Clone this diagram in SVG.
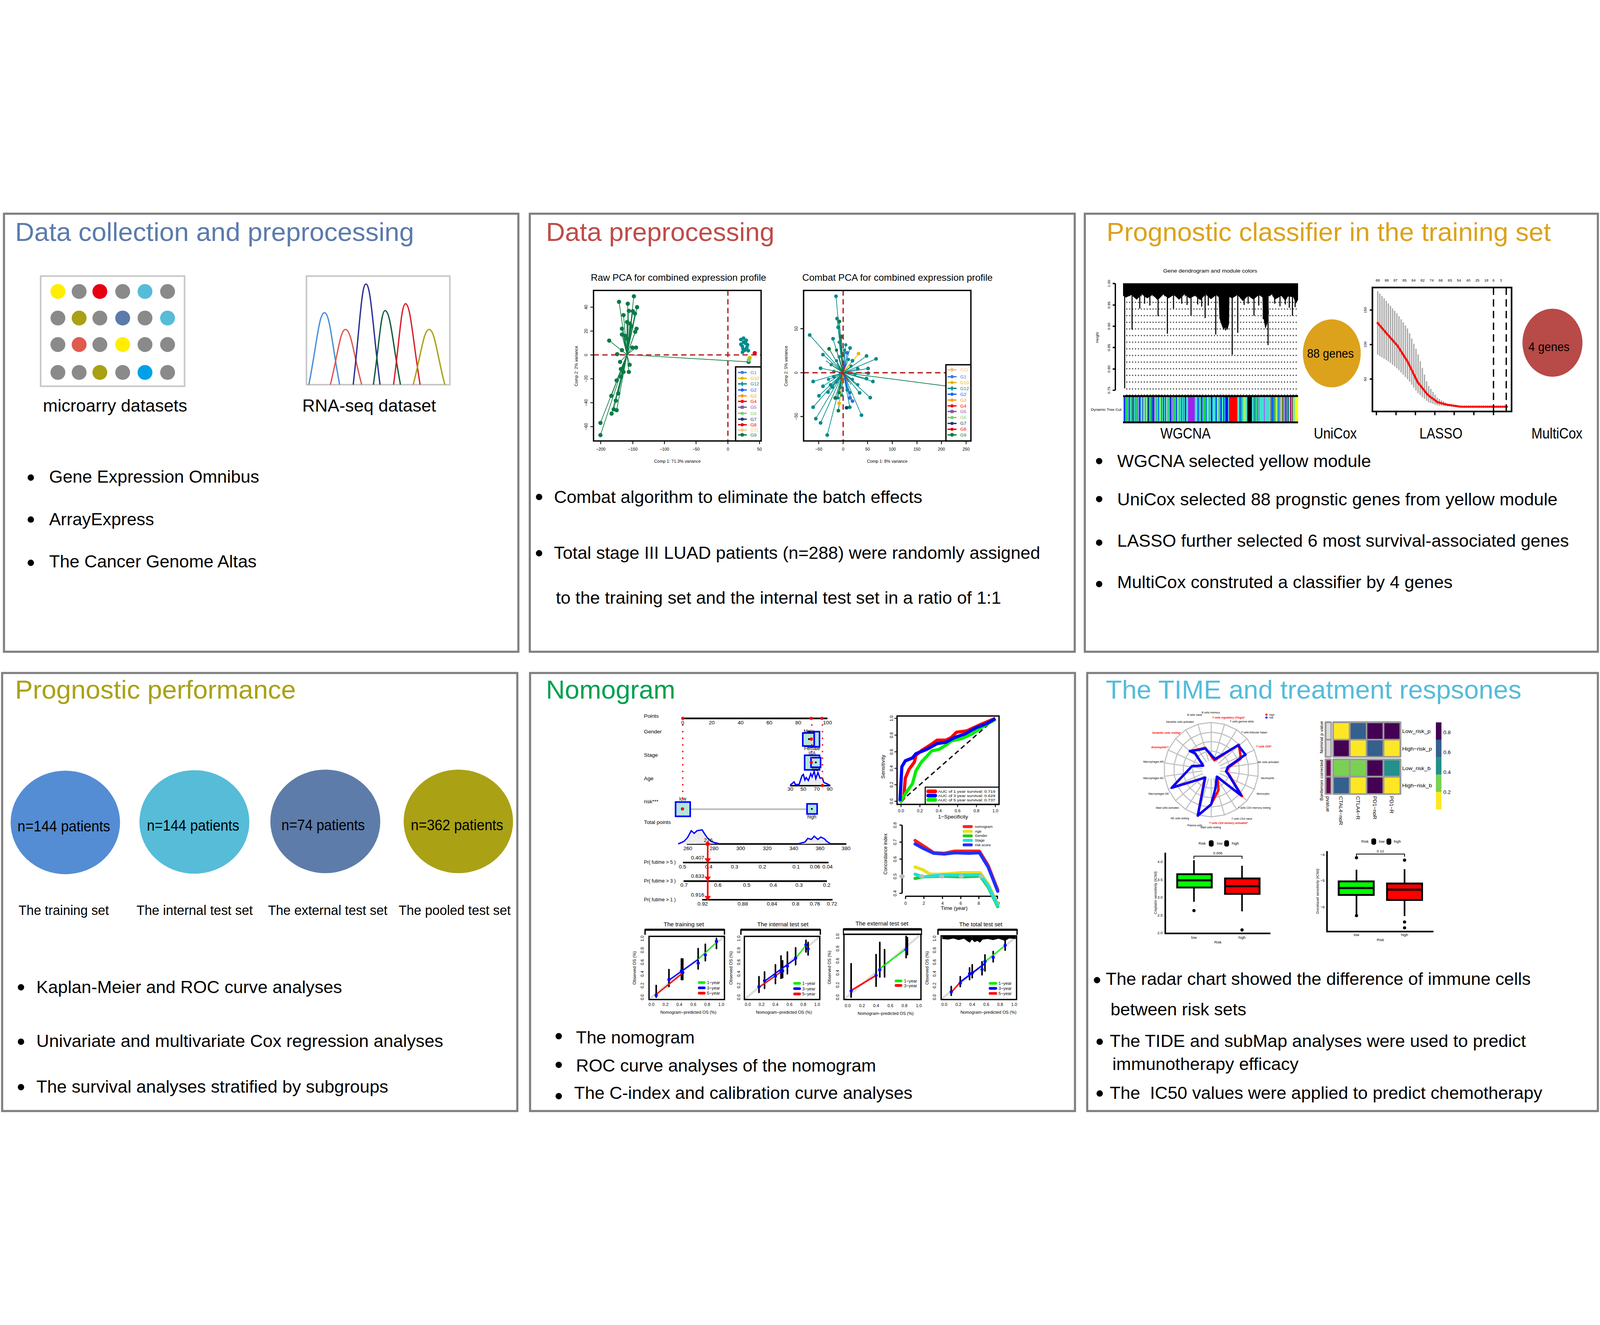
<svg xmlns="http://www.w3.org/2000/svg" xmlns:xlink="http://www.w3.org/1999/xlink" width="6025" height="3393" viewBox="0 0 6025 3393" style="width:100%;height:100%;display:block">
<defs>
<style>
text{font-family:"Liberation Sans",Arial,Helvetica,sans-serif;fill:#000}
.panel{fill:#fff;stroke:#808080;stroke-width:8}
.title{font-size:98px}
.bt{font-size:66px}
.lb{font-size:64px}
.mid{text-anchor:middle}
.end{text-anchor:end}
.t14{font-size:14px}
.t16{font-size:16px}
.t17{font-size:17px}
.t18{font-size:18px}
.t20{font-size:20px}
.t22{font-size:22px}
.t34{font-size:34px}
.fr{fill:none;stroke:#000;stroke-width:5}
.ax{fill:none;stroke:#000;stroke-width:6}
.c1{fill:#5b7bac}.c2{fill:#bf4c49}.c3{fill:#dca21c}.c4{fill:#a9a115}.c5{fill:#00a04f}.c6{fill:#55bcd9}
.rt{fill:#ff0000}
.rad{font-size:10px}
.radr{font-size:10px;fill:#ff0000;font-style:italic;font-weight:bold}
.dot{fill:#8a8a8a}
.pg{fill:#0b7a45}
.pt{fill:#008b8b}
.box{fill:#b3e6df;stroke:#0000ff;stroke-width:6}
.cal{fill:none;stroke:#000;stroke-width:6;stroke-linecap:round}
</style>
<polygon id="ring" fill="none" stroke="#c0c0c0" points="0,-100 28.17,-95.95 54.06,-84.13 75.57,-65.49 90.96,-41.54 98.98,-14.23 98.98,14.23 90.96,41.54 75.57,65.49 54.06,84.13 28.17,95.95 0,100 -28.17,95.95 -54.06,84.13 -75.57,65.49 -90.96,41.54 -98.98,14.23 -98.98,-14.23 -90.96,-41.54 -75.57,-65.49 -54.06,-84.13 -28.17,-95.95"/>
</defs>
<rect x="0" y="0" width="6025" height="3393" fill="#fff"/>

<!-- ============ PANEL 1 ============ -->
<g id="panel-data-collection">
<rect class="panel" x="15" y="6" width="1937" height="1650"/>
<text class="title c1" x="57" y="108" textLength="1502" lengthAdjust="spacingAndGlyphs">Data collection and preprocessing</text>
<g id="microarray">
<rect x="153" y="241" width="542" height="415" fill="#fff" stroke="#c8c8c8" stroke-width="6"/>
<circle cx="218" cy="299" r="28" fill="#ffee00"/><circle class="dot" cx="298" cy="299" r="28"/><circle cx="376" cy="299" r="28" fill="#e60012"/><circle class="dot" cx="462" cy="299" r="28"/><circle cx="546" cy="299" r="28" fill="#56bcd8"/><circle class="dot" cx="631" cy="299" r="28"/>
<circle class="dot" cx="218" cy="399" r="28"/><circle cx="298" cy="399" r="28" fill="#a9a014"/><circle class="dot" cx="376" cy="399" r="28"/><circle cx="462" cy="399" r="28" fill="#5b7bab"/><circle class="dot" cx="546" cy="399" r="28"/><circle cx="631" cy="399" r="28" fill="#56bcd8"/>
<circle class="dot" cx="218" cy="499" r="28"/><circle cx="298" cy="499" r="28" fill="#e05a4f"/><circle class="dot" cx="376" cy="499" r="28"/><circle cx="462" cy="499" r="28" fill="#ffee00"/><circle class="dot" cx="546" cy="499" r="28"/><circle class="dot" cx="631" cy="499" r="28"/>
<circle class="dot" cx="218" cy="604" r="28"/><circle class="dot" cx="298" cy="604" r="28"/><circle cx="376" cy="604" r="28" fill="#a9a014"/><circle class="dot" cx="462" cy="604" r="28"/><circle cx="546" cy="604" r="28" fill="#00a0e9"/><circle class="dot" cx="631" cy="604" r="28"/>
<text class="lb" x="162" y="751" textLength="543" lengthAdjust="spacingAndGlyphs">microarry datasets</text>
</g>
<g id="rnaseq">
<rect x="1154" y="241" width="540" height="409" fill="#fff" stroke="#c8c8c8" stroke-width="6"/>
<g fill="none" stroke-width="5">
<path stroke="#4a8fd9" d="M1163 650C1192.5 501 1201 379 1222 379C1242 379 1250.5 501 1279 650"/>
<path stroke="#e0574f" d="M1244 650C1272.5 535.6 1281 442 1301 442C1322 442 1331.5 535.6 1362 650"/>
<path stroke="#2c2f91" d="M1330 650C1354 441.5 1361 271 1378 271C1396.5 271 1404.5 441.5 1431 650"/>
<path stroke="#0e5e3b" d="M1406 650C1428 496.5 1434.6 371 1450 371C1470.3 371 1479 496.5 1508 650"/>
<path stroke="#d6202b" d="M1482 650C1504.5 482 1511 345 1527 345C1546 345 1554.5 482 1582 650"/>
<path stroke="#aaa014" d="M1556 650C1586 535.6 1595 442 1616 442C1636.7 442 1645.5 535.6 1675 650"/>
</g>
<text class="lb" x="1138" y="751" textLength="504" lengthAdjust="spacingAndGlyphs">RNA-seq dataset</text>
</g>
<circle cx="116" cy="1000" r="12"/>
<text class="bt" x="185" y="1019" textLength="791" lengthAdjust="spacingAndGlyphs">Gene Expression Omnibus</text>
<circle cx="116" cy="1158" r="12"/>
<text class="bt" x="185" y="1180" textLength="395" lengthAdjust="spacingAndGlyphs">ArrayExpress</text>
<circle cx="116" cy="1321" r="12"/>
<text class="bt" x="185" y="1339" textLength="781" lengthAdjust="spacingAndGlyphs">The Cancer Genome Altas</text>
</g>

<!-- ============ PANEL 2 ============ -->
<g id="panel-data-preprocessing">
<rect class="panel" x="1995" y="6" width="2052" height="1650"/>
<text class="title c2" x="2056" y="108" textLength="860" lengthAdjust="spacingAndGlyphs">Data preprocessing</text>
<g id="pca-raw">
<text class="t34" x="2225" y="258" textLength="660" lengthAdjust="spacingAndGlyphs">Raw PCA for combined expression profile</text>
<g stroke="#0b7a45" stroke-width="2.5" fill="none">
<path d="M2361 537L2331 338M2361 537L2387 317M2361 537L2399 358M2361 537L2364 345M2361 537L2348 388M2361 537L2368 372M2361 537L2391 382M2361 537L2383 373M2361 537L2361 414M2361 537L2342 439M2361 537L2397 439M2361 537L2392 451M2361 537L2294 484M2361 537L2342 461M2361 537L2355 466M2361 537L2381 510M2361 537L2395 510M2361 537L2324 535M2361 537L2335 564M2361 537L2338 591M2361 537L2371 575M2361 537L2322 634M2361 537L2338 620M2361 537L2302 692M2361 537L2319 710M2361 537L2328 683M2361 537L2311 743M2361 537L2303 759M2361 537L2322 746M2361 537L2261 794M2361 537L2261 840M2361 537L2348 602M2361 537L2368 602M2361 537L2372 420M2361 537L2378 430M2361 537L2819 564"/>
</g>
<g class="pg">
<circle cx="2331" cy="338" r="8"/><circle cx="2387" cy="317" r="8"/><circle cx="2399" cy="358" r="8"/><circle cx="2364" cy="345" r="8"/><circle cx="2348" cy="388" r="8"/><circle cx="2368" cy="372" r="8"/><circle cx="2391" cy="382" r="8"/><circle cx="2383" cy="373" r="8"/><circle cx="2361" cy="414" r="8"/><circle cx="2342" cy="439" r="8"/><circle cx="2397" cy="439" r="8"/><circle cx="2392" cy="451" r="8"/><circle cx="2294" cy="484" r="8"/><circle cx="2342" cy="461" r="8"/><circle cx="2355" cy="466" r="8"/><circle cx="2361" cy="477" r="8"/><circle cx="2381" cy="510" r="8"/><circle cx="2395" cy="510" r="8"/><circle cx="2324" cy="535" r="8"/><circle cx="2342" cy="520" r="8"/><circle cx="2335" cy="564" r="8"/><circle cx="2338" cy="591" r="8"/><circle cx="2371" cy="575" r="8"/><circle cx="2322" cy="634" r="8"/><circle cx="2338" cy="620" r="8"/><circle cx="2302" cy="692" r="8"/><circle cx="2319" cy="710" r="8"/><circle cx="2328" cy="683" r="8"/><circle cx="2311" cy="743" r="8"/><circle cx="2303" cy="759" r="8"/><circle cx="2322" cy="746" r="8"/><circle cx="2261" cy="794" r="8"/><circle cx="2261" cy="840" r="8"/><circle cx="2348" cy="602" r="8"/><circle cx="2368" cy="602" r="8"/><circle cx="2372" cy="420" r="8"/><circle cx="2378" cy="430" r="8"/><circle cx="2819" cy="564" r="8"/>
</g>
<g class="pt">
<circle cx="2790" cy="480" r="7"/><circle cx="2800" cy="490" r="7"/><circle cx="2808" cy="495" r="7"/><circle cx="2795" cy="505" r="7"/><circle cx="2812" cy="510" r="7"/><circle cx="2805" cy="520" r="7"/><circle cx="2798" cy="515" r="7"/><circle cx="2815" cy="500" r="7"/><circle cx="2790" cy="498" r="7"/><circle cx="2800" cy="475" r="7"/><circle cx="2810" cy="483" r="7"/><circle cx="2818" cy="522" r="7"/><circle cx="2796" cy="528" r="7"/>
</g>
<circle cx="2842" cy="531" r="8" fill="#e8000b"/>
<circle cx="2823" cy="549" r="8" fill="#e8b600"/>
<circle cx="2820" cy="557" r="8" fill="#7ccd6b"/>
<g fill="none" stroke="#b22222" stroke-width="5" stroke-dasharray="20 13">
<path d="M2741 295V862M2235 538H2866"/>
</g>
<rect class="fr" x="2235" y="295" width="631" height="567"/>
<path d="M2262 862v12M2383 862v12M2502 862v12M2621 862v12M2741 862v12M2860 862v12M2235 358h-12M2235 448h-12M2235 538h-12M2235 628h-12M2235 718h-12M2235 808h-12" stroke="#000" stroke-width="3"/>
<g class="t16 mid">
<text x="2262" y="898">−200</text><text x="2383" y="898">−150</text><text x="2502" y="898">−100</text><text x="2621" y="898">−50</text><text x="2741" y="898">0</text><text x="2860" y="898">50</text>
<text transform="translate(2212 358) rotate(-90)">40</text><text transform="translate(2212 448) rotate(-90)">20</text><text transform="translate(2212 538) rotate(-90)">0</text><text transform="translate(2212 628) rotate(-90)">−20</text><text transform="translate(2212 718) rotate(-90)">−40</text><text transform="translate(2212 808) rotate(-90)">−60</text>
<text x="2551" y="944">Comp 1: 71.3% variance</text>
<text transform="translate(2176 580) rotate(-90)">Comp 2: 2% variance</text>
</g>
<rect x="2770" y="583" width="96" height="279" fill="#fff" stroke="#000" stroke-width="5"/>
<g stroke-width="5">
<path d="M2779 604h33" stroke="#3a7fd5"/><circle cx="2795" cy="604" r="6" fill="#3a7fd5"/>
<path d="M2779 626h33" stroke="#e8b600"/><circle cx="2795" cy="626" r="6" fill="#e8b600"/>
<path d="M2779 647h33M2795 639v16" stroke="#008b8b"/>
<path d="M2779 670h33" stroke="#1565ff"/><circle cx="2795" cy="670" r="6" fill="#1565ff"/>
<path d="M2779 692h33" stroke="#ff9a00"/><circle cx="2795" cy="692" r="6" fill="#ff9a00"/>
<path d="M2779 713h33" stroke="#ff0000"/><circle cx="2795" cy="713" r="6" fill="#ff0000"/>
<path d="M2779 735h33" stroke="#7d5ea5"/><rect x="2789" y="729" width="12" height="12" fill="#7d5ea5"/>
<path d="M2779 758h33" stroke="#7ccd6b"/><circle cx="2795" cy="758" r="6" fill="#7ccd6b"/>
<path d="M2779 780h33" stroke="#1f3a6e"/><circle cx="2795" cy="780" r="6" fill="#1f3a6e"/>
<path d="M2779 801h33" stroke="#e8000b"/><circle cx="2795" cy="801" r="6" fill="#e8000b"/>
<path d="M2779 821h33" stroke="#f6c28f"/><circle cx="2795" cy="821" r="6" fill="#f6c28f"/>
<path d="M2779 839h33" stroke="#0b7a45"/><circle cx="2795" cy="839" r="7" fill="#0b7a45"/>
</g>
<g class="t17">
<text x="2826" y="610" style="fill:#3a7fd5">G1</text><text x="2826" y="632" style="fill:#e8b600">G10</text><text x="2826" y="653" style="fill:#008b8b">G12</text><text x="2826" y="676" style="fill:#1565ff">G2</text><text x="2826" y="698" style="fill:#ff9a00">G3</text><text x="2826" y="719" style="fill:#ff0000">G4</text><text x="2826" y="741" style="fill:#7d5ea5">G5</text><text x="2826" y="764" style="fill:#7ccd6b">G6</text><text x="2826" y="786" style="fill:#1f3a6e">G7</text><text x="2826" y="807" style="fill:#e8000b">G8</text><text x="2826" y="827" style="fill:#f6c28f">G11</text><text x="2826" y="845" style="fill:#0b7a45">G9</text>
</g>
</g>
<g id="pca-combat">
<text class="t34" x="3021" y="258" textLength="717" lengthAdjust="spacingAndGlyphs">Combat PCA for combined expression profile</text>
<g stroke="#008b8b" stroke-width="2.5" fill="none">
<path d="M3175 605L3148 317M3175 605L3152 401M3175 605L3156 434M3175 605L3049 463M3175 605L3137 477M3175 605L3167 468M3175 605L3099 537M3175 605L3201 512M3175 605L3263 542M3175 605L3299 553M3175 605L3090 588M3175 605L3269 589M3175 605L3269 607M3175 605L3062 638M3175 605L3263 627M3175 605L3287 638M3175 605L3099 656M3175 605L3128 651M3175 605L3118 678M3175 605L3084 692M3175 605L3237 681M3175 605L3277 699M3175 605L3062 735M3175 605L3072 778M3175 605L3090 794M3175 605L3115 840M3175 605L3244 765M3175 605L3200 735M3175 605L3210 560M3175 605L3140 620M3175 605L3150 570M3175 605L3230 590M3175 605L3205 650M3175 605L3150 560M3175 605L3160 545M3175 605L3195 555M3175 605L3205 580M3175 605L3140 600M3175 605L3150 640M3175 605L3165 660M3175 605L3190 670M3175 605L3210 630M3175 605L3220 610M3175 605L3130 575M3175 605L3180 520M3175 605L3170 690M3175 605L3155 700M3175 605L3200 680M3175 605L3230 650M3175 605L3120 630M3175 605L3135 660M3175 605L3185 500M3175 605L3160 490"/>
</g>
<g stroke="#0b7a45" stroke-width="2.5" fill="none"><path d="M3175 605L3161 412M3175 605L3122 515M3175 605L3157 748M3175 605L3632 664M3175 605L3110 560M3175 605L3145 700M3175 605L3168 470M3175 605L3150 520M3175 605L3160 680"/></g>
<g stroke="#1565ff" stroke-width="2.5" fill="none"><path d="M3175 605L3190 530M3175 605L3200 700M3175 605L3210 712M3175 605L3180 560"/></g>
<g stroke="#e8b600" stroke-width="2.5" fill="none"><path d="M3175 605L3233 533M3175 605L3160 720M3175 605L3215 555"/></g>
<g stroke="#ff0000" stroke-width="2.5" fill="none"><path d="M3175 605L3185 570M3175 605L3195 640M3175 605L3165 630"/></g>
<g class="pt">
<circle cx="3148" cy="317" r="7"/><circle cx="3152" cy="401" r="7"/><circle cx="3156" cy="434" r="7"/><circle cx="3049" cy="463" r="7"/><circle cx="3137" cy="477" r="7"/><circle cx="3167" cy="468" r="7"/><circle cx="3099" cy="537" r="7"/><circle cx="3201" cy="512" r="7"/><circle cx="3263" cy="542" r="7"/><circle cx="3299" cy="553" r="7"/><circle cx="3090" cy="588" r="7"/><circle cx="3269" cy="589" r="7"/><circle cx="3269" cy="607" r="7"/><circle cx="3062" cy="638" r="7"/><circle cx="3263" cy="627" r="7"/><circle cx="3287" cy="638" r="7"/><circle cx="3099" cy="656" r="7"/><circle cx="3128" cy="651" r="7"/><circle cx="3118" cy="678" r="7"/><circle cx="3084" cy="692" r="7"/><circle cx="3237" cy="681" r="7"/><circle cx="3277" cy="699" r="7"/><circle cx="3062" cy="735" r="7"/><circle cx="3072" cy="778" r="7"/><circle cx="3090" cy="794" r="7"/><circle cx="3115" cy="840" r="7"/><circle cx="3244" cy="765" r="7"/><circle cx="3200" cy="735" r="7"/><circle cx="3210" cy="560" r="7"/><circle cx="3140" cy="620" r="7"/><circle cx="3230" cy="590" r="7"/>
<circle cx="3150" cy="560" r="6"/><circle cx="3160" cy="545" r="6"/><circle cx="3195" cy="555" r="6"/><circle cx="3205" cy="580" r="6"/><circle cx="3140" cy="600" r="6"/><circle cx="3150" cy="640" r="6"/><circle cx="3165" cy="660" r="6"/><circle cx="3190" cy="670" r="6"/><circle cx="3210" cy="630" r="6"/><circle cx="3220" cy="610" r="6"/><circle cx="3130" cy="575" r="6"/><circle cx="3180" cy="520" r="6"/><circle cx="3170" cy="690" r="6"/><circle cx="3155" cy="700" r="6"/><circle cx="3200" cy="680" r="6"/><circle cx="3230" cy="650" r="6"/><circle cx="3120" cy="630" r="6"/><circle cx="3135" cy="660" r="6"/><circle cx="3185" cy="500" r="6"/><circle cx="3160" cy="490" r="6"/>
</g>
<g class="pg"><circle cx="3161" cy="412" r="7"/><circle cx="3122" cy="515" r="7"/><circle cx="3157" cy="748" r="7"/><circle cx="3632" cy="664" r="8"/><circle cx="3145" cy="700" r="7"/><circle cx="3168" cy="470" r="7"/><circle cx="3150" cy="520" r="6"/><circle cx="3160" cy="680" r="6"/></g>
<g fill="#2f6fd6"><circle cx="3190" cy="530" r="7"/><circle cx="3200" cy="700" r="7"/><circle cx="3210" cy="712" r="7"/></g>
<circle cx="3233" cy="533" r="7" fill="#e8b600"/><circle cx="3160" cy="720" r="7" fill="#e8b600"/>
<circle cx="3188" cy="737" r="7" fill="#1f3a6e"/>
<g fill="none" stroke="#b22222" stroke-width="5" stroke-dasharray="20 13">
<path d="M3175 295V862M3026 605H3656"/>
</g>
<rect class="fr" x="3026" y="295" width="630" height="567"/>
<path d="M3083 862v12M3175 862v12M3267 862v12M3360 862v12M3453 862v12M3545 862v12M3638 862v12M3026 439h-12M3026 605h-12M3026 770h-12" stroke="#000" stroke-width="3"/>
<g class="t16 mid">
<text x="3083" y="898">−50</text><text x="3175" y="898">0</text><text x="3267" y="898">50</text><text x="3360" y="898">100</text><text x="3453" y="898">150</text><text x="3545" y="898">200</text><text x="3638" y="898">250</text>
<text transform="translate(3003 439) rotate(-90)">50</text><text transform="translate(3003 605) rotate(-90)">0</text><text transform="translate(3003 770) rotate(-90)">−50</text>
<text x="3341" y="944">Comp 1: 8% variance</text>
<text transform="translate(2966 580) rotate(-90)">Comp 2: 5% variance</text>
</g>
<rect x="3562" y="575" width="94" height="287" fill="#fff" stroke="#000" stroke-width="5"/>
<g stroke-width="5">
<path d="M3568 594h34" stroke="#f6c28f"/><circle cx="3585" cy="594" r="7" fill="#f6c28f"/>
<path d="M3568 620h34" stroke="#3a7fd5"/><circle cx="3585" cy="620" r="6" fill="#3a7fd5"/>
<path d="M3568 642h34" stroke="#e8b600"/><circle cx="3585" cy="642" r="6" fill="#e8b600"/>
<path d="M3568 664h34M3585 656v16" stroke="#008b8b"/>
<path d="M3568 686h34" stroke="#1565ff"/><circle cx="3585" cy="686" r="6" fill="#1565ff"/>
<path d="M3568 708h34" stroke="#ff9a00"/><circle cx="3585" cy="708" r="6" fill="#ff9a00"/>
<path d="M3568 730h34" stroke="#ff0000"/><circle cx="3585" cy="730" r="6" fill="#ff0000"/>
<path d="M3568 751h34" stroke="#7d5ea5"/><rect x="3579" y="745" width="12" height="12" fill="#7d5ea5"/>
<path d="M3568 774h34" stroke="#7ccd6b"/><circle cx="3585" cy="774" r="6" fill="#7ccd6b"/>
<path d="M3568 796h34" stroke="#1f3a6e"/><circle cx="3585" cy="796" r="6" fill="#1f3a6e"/>
<path d="M3568 818h34" stroke="#e8000b"/><circle cx="3585" cy="818" r="6" fill="#e8000b"/>
<path d="M3568 839h34" stroke="#0b7a45"/><circle cx="3585" cy="839" r="7" fill="#0b7a45"/>
</g>
<g class="t17">
<text x="3616" y="600" style="fill:#f6c28f">G11</text><text x="3616" y="626" style="fill:#3a7fd5">G1</text><text x="3616" y="648" style="fill:#e8b600">G10</text><text x="3616" y="670" style="fill:#008b8b">G12</text><text x="3616" y="692" style="fill:#1565ff">G2</text><text x="3616" y="714" style="fill:#ff9a00">G3</text><text x="3616" y="736" style="fill:#ff0000">G4</text><text x="3616" y="757" style="fill:#7d5ea5">G5</text><text x="3616" y="780" style="fill:#7ccd6b">G6</text><text x="3616" y="802" style="fill:#1f3a6e">G7</text><text x="3616" y="824" style="fill:#e8000b">G8</text><text x="3616" y="845" style="fill:#0b7a45">G9</text>
</g>
</g>
<circle cx="2030" cy="1073" r="12"/>
<text class="bt" x="2086" y="1095" textLength="1387" lengthAdjust="spacingAndGlyphs">Combat algorithm to eliminate the batch effects</text>
<circle cx="2030" cy="1285" r="12"/>
<text class="bt" x="2086" y="1306" textLength="1831" lengthAdjust="spacingAndGlyphs">Total stage III LUAD patients (n=288) were randomly assigned</text>
<text class="bt" x="2093" y="1475" textLength="1677" lengthAdjust="spacingAndGlyphs">to the training set and the internal test set in a ratio of 1:1</text>
</g>

<!-- ============ PANEL 3 ============ -->
<g id="panel-classifier">
<rect class="panel" x="4085" y="6" width="1932" height="1650"/>
<text class="title c3" x="4167" y="108" textLength="1673" lengthAdjust="spacingAndGlyphs">Prognostic classifier in the training set</text>
<g id="wgcna">
<text class="t20 mid" x="4557" y="228" textLength="354" lengthAdjust="spacingAndGlyphs">Gene dendrogram and module colors</text>
<path d="M4200 269V671M4200 269h-10M4200 350h-10M4200 430h-10M4200 510h-10M4200 591h-10M4200 671h-10" stroke="#000" stroke-width="5" fill="none"/>
<g class="t14 mid">
<text transform="translate(4180 269) rotate(-90)">1.00</text><text transform="translate(4180 350) rotate(-90)">0.95</text><text transform="translate(4180 430) rotate(-90)">0.90</text><text transform="translate(4180 510) rotate(-90)">0.85</text><text transform="translate(4180 591) rotate(-90)">0.80</text><text transform="translate(4180 671) rotate(-90)">0.75</text>
<text transform="translate(4136 472) rotate(-90)">Height</text>
</g>
<path fill="none" stroke="#444" stroke-width="5" stroke-linecap="round" stroke-dasharray="0 11" d="M4243 315H4887M4243 340H4887M4243 365H4887M4243 390H4887M4243 415H4887M4243 440H4887M4243 465H4887M4243 490H4887M4243 515H4887M4243 540H4887M4243 565H4887M4243 590H4887M4243 615H4887M4243 640H4887M4243 666H4887M4243 689H4887"/>
<rect x="4229" y="268" width="659" height="24" fill="#000"/>
<path fill="#000" d="M4229 290H4888V330L4880 345 4870 320 4850 318 4840 335 4825 315 4800 330 4790 310 4760 325 4740 312 4720 330 4700 315 4680 335 4660 312 4640 325 4620 315 4600 330 4580 312 4560 328 4540 310 4520 332 4500 315 4480 325 4460 310 4440 330 4420 312 4400 325 4380 310 4360 332 4340 312 4320 325 4300 310 4280 330 4260 312 4240 322 4229 315Z"/>
<path fill="#000" d="M4588 290H4630L4628 420 4622 445 4615 430 4608 445 4600 425 4592 400Z"/>
<path fill="#000" d="M4752 290H4772L4778 380 4772 420 4765 440 4758 400Z"/>
<path fill="none" stroke="#000" stroke-width="4" d="M4235 290V664M4263 290V443M4292 290V363M4361 290V392M4396 290V458M4419 290V363M4485 290V390M4538 290V399M4578 290V461M4615 290V446M4640 290V537M4661 290V455M4722 290V390M4757 290V403M4775 290V501M4867 290V390M4877 290V358M4310 290V345M4330 290V352M4450 290V345M4470 290V350M4510 290V348M4525 290V356M4550 290V352M4600 290V410M4685 290V350M4700 290V345M4740 290V352M4800 290V345M4820 290V355M4840 290V348M4855 290V360"/>
<rect x="4229" y="693" width="659" height="99" fill="#40e0d0"/>
<path fill="#0000ff" d="M4233 693h4v99h-4zM4251 693h3v99h-3zM4268 693h2v99h-2zM4290 693h4v99h-4zM4302 693h2v99h-2zM4321 693h3v99h-3zM4340 693h5v99h-5zM4362 693h2v99h-2zM4380 693h3v99h-3zM4405 693h4v99h-4zM4428 693h3v99h-3zM4448 693h2v99h-2zM4462 693h4v99h-4zM4510 693h3v99h-3zM4523 693h4v99h-4zM4541 693h2v99h-2zM4560 693h5v99h-5zM4578 693h3v99h-3zM4596 693h4v99h-4zM4607 693h3v99h-3zM4616 693h8v99h-8zM4668 693h3v99h-3zM4725 693h2v99h-2zM4790 693h3v99h-3zM4812 693h2v99h-2zM4840 693h3v99h-3zM4860 693h2v99h-2z"/>
<path fill="#00c000" d="M4240 693h3v99h-3zM4259 693h2v99h-2zM4280 693h3v99h-3zM4312 693h2v99h-2zM4331 693h3v99h-3zM4355 693h2v99h-2zM4372 693h4v99h-4zM4398 693h2v99h-2zM4420 693h3v99h-3zM4440 693h2v99h-2zM4455 693h3v99h-3zM4517 693h2v99h-2zM4535 693h3v99h-3zM4553 693h2v99h-2zM4590 693h2v99h-2zM4673 693h4v99h-4zM4720 693h3v99h-3zM4732 693h5v99h-5zM4800 693h2v99h-2zM4828 693h3v99h-3z"/>
<path fill="#ff00ff" d="M4246 693h2v99h-2zM4285 693h2v99h-2zM4347 693h2v99h-2zM4415 693h2v99h-2zM4530 693h2v99h-2zM4740 693h2v99h-2zM4760 693h2v99h-2zM4835 693h2v99h-2z"/>
<path fill="#000" d="M4264 693h2v99h-2zM4325 693h2v99h-2zM4388 693h2v99h-2zM4697 693h17v99h-17zM4850 693h2v99h-2z"/>
<path fill="#a52a2a" d="M4275 693h2v99h-2zM4410 693h2v99h-2zM4795 693h3v99h-3zM4818 693h2v99h-2zM4845 693h2v99h-2zM4866 693h3v99h-3z"/>
<path fill="#adff2f" d="M4298 693h3v99h-3zM4367 693h3v99h-3zM4435 693h2v99h-2zM4546 693h3v99h-3zM4683 693h4v99h-4zM4805 693h3v99h-3z"/>
<path fill="#ffc0cb" d="M4307 693h2v99h-2zM4392 693h2v99h-2zM4688 693h3v99h-3zM4822 693h3v99h-3zM4855 693h3v99h-3z"/>
<path fill="#ffff00" d="M4318 693h2v99h-2zM4585 693h2v99h-2zM4808 693h2v99h-2zM4870 693h3v99h-3zM4876 693h12v99h-12z"/>
<rect x="4474" y="693" width="25" height="99" fill="#a020f0"/>
<rect x="4628" y="693" width="31" height="99" fill="#ff0000"/>
<path fill="#ff0000" d="M4785 693h3v99h-3zM4830 693h2v99h-2zM4858 693h2v99h-2z"/>
<path fill="#191970" d="M4336 693h2v99h-2zM4614 693h2v99h-2z"/>
<path d="M4229 693H4888M4229 792H4888" stroke="#000" stroke-width="7"/>
<text class="t14" x="4108" y="749" textLength="115" lengthAdjust="spacingAndGlyphs">Dynamic Tree Cut</text>
<text class="lb mid" x="4464" y="853" style="font-size:56px" textLength="189" lengthAdjust="spacingAndGlyphs">WGCNA</text>
</g>
<g id="unicox">
<ellipse cx="5015" cy="532" rx="109" ry="128" fill="#dca21c"/>
<text class="mid" x="5010" y="548" style="font-size:46px" textLength="176" lengthAdjust="spacingAndGlyphs">88 genes</text>
<text class="mid" x="5028" y="853" style="font-size:56px" textLength="162" lengthAdjust="spacingAndGlyphs">UniCox</text>
</g>
<g id="lasso">
<g class="t14 mid">
<text x="5188" y="262">88</text><text x="5222" y="262">88</text><text x="5255" y="262">87</text><text x="5289" y="262">85</text><text x="5323" y="262">84</text><text x="5357" y="262">82</text><text x="5391" y="262">74</text><text x="5425" y="262">68</text><text x="5460" y="262">65</text><text x="5494" y="262">54</text><text x="5529" y="262">40</text><text x="5563" y="262">25</text><text x="5597" y="262">18</text><text x="5624" y="262">6</text><text x="5652" y="262">3</text>
<text transform="translate(5146 369) rotate(-90)">150</text><text transform="translate(5146 499) rotate(-90)">100</text><text transform="translate(5146 629) rotate(-90)">50</text>
</g>
<path fill="none" stroke="#a9a9a9" stroke-width="5" d="M5188 298V537M5196 307V542M5204 316V547M5212 325V552M5220 334V557M5228 344V562M5236 353V568M5244 363V575M5252 372V581M5260 381V588M5268 392V595M5276 404V604M5284 415V612M5292 427V621M5300 438V629M5308 457V639M5316 476V650M5324 496V661M5332 515V672M5340 536V682M5348 562V689M5356 587V697M5364 612V704M5372 637V711M5380 655V716M5388 666V719M5396 677V722M5404 688V725M5412 699V728M5420 704V729M5428 709V729M5436 713V730M5444 718V730M5452 722V731M5460 724V731M5468 725V732M5476 727V732M5484 728V733M5492 730V733M5500 731V734"/>
<path fill="none" stroke="#ff0000" stroke-width="9" stroke-linecap="round" stroke-dasharray="0 8" d="M5188 418L5225 461 5263 504 5301 564 5338 640 5376 688 5413 716 5451 726 5501 733 5677 733"/>
<path d="M5624 284V751M5672 284V751" stroke="#000" stroke-width="5" stroke-dasharray="28 16"/>
<rect class="fr" x="5168" y="284" width="524" height="467" style="stroke-width:6"/>
<path d="M5183 751v14M5257 751v14M5330 751v14M5403 751v14M5476 751v14M5550 751v14M5624 751v14M5168 369h-10M5168 499h-10M5168 629h-10" stroke="#000" stroke-width="5"/>
<text class="mid" x="5426" y="853" style="font-size:56px" textLength="162" lengthAdjust="spacingAndGlyphs">LASSO</text>
</g>
<g id="multicox">
<ellipse cx="5846" cy="492" rx="113" ry="128" fill="#b84a47"/>
<text class="mid" x="5833" y="523" style="font-size:46px" textLength="155" lengthAdjust="spacingAndGlyphs">4 genes</text>
<text class="mid" x="5863" y="853" style="font-size:56px" textLength="192" lengthAdjust="spacingAndGlyphs">MultiCox</text>
</g>
<circle cx="4139" cy="938" r="12"/>
<text class="bt" x="4207" y="960" textLength="956" lengthAdjust="spacingAndGlyphs">WGCNA selected yellow module</text>
<circle cx="4139" cy="1081" r="12"/>
<text class="bt" x="4207" y="1104" textLength="1658" lengthAdjust="spacingAndGlyphs">UniCox selected 88 prognstic genes from yellow module</text>
<circle cx="4139" cy="1245" r="12"/>
<text class="bt" x="4207" y="1261" textLength="1701" lengthAdjust="spacingAndGlyphs">LASSO further selected 6 most survival-associated genes</text>
<circle cx="4139" cy="1401" r="12"/>
<text class="bt" x="4207" y="1417" textLength="1263" lengthAdjust="spacingAndGlyphs">MultiCox construted a classifier by 4 genes</text>
</g>

<!-- ============ PANEL 4 ============ -->
<g id="panel-prognostic-performance">
<rect class="panel" x="8" y="1736" width="1940" height="1650"/>
<text class="title c4" x="57" y="1832" textLength="1057" lengthAdjust="spacingAndGlyphs">Prognostic performance</text>
<g id="set-training">
<ellipse cx="246" cy="2299" rx="206" ry="195" fill="#548dd4"/>
<text x="66" y="2332" style="font-size:57px" textLength="349" lengthAdjust="spacingAndGlyphs">n=144 patients</text>
<text x="70" y="2648" style="font-size:52px" textLength="340" lengthAdjust="spacingAndGlyphs">The training set</text>
</g>
<g id="set-internal">
<ellipse cx="732" cy="2297" rx="207" ry="195" fill="#56bcd8"/>
<text x="553" y="2330" style="font-size:57px" textLength="348" lengthAdjust="spacingAndGlyphs">n=144 patients</text>
<text x="514" y="2648" style="font-size:52px" textLength="438" lengthAdjust="spacingAndGlyphs">The internal test set</text>
</g>
<g id="set-external">
<ellipse cx="1225" cy="2295" rx="207" ry="195" fill="#5e7ca9"/>
<text x="1060" y="2328" style="font-size:57px" textLength="314" lengthAdjust="spacingAndGlyphs">n=74 patients</text>
<text x="1009" y="2648" style="font-size:52px" textLength="450" lengthAdjust="spacingAndGlyphs">The external test set</text>
</g>
<g id="set-pooled">
<ellipse cx="1726" cy="2295" rx="206" ry="195" fill="#aaa115"/>
<text x="1547" y="2328" style="font-size:57px" textLength="348" lengthAdjust="spacingAndGlyphs">n=362 patients</text>
<text x="1501" y="2648" style="font-size:52px" textLength="422" lengthAdjust="spacingAndGlyphs">The pooled test set</text>
</g>
<circle cx="79" cy="2920" r="12"/>
<text class="bt" x="137" y="2942" textLength="1151" lengthAdjust="spacingAndGlyphs">Kaplan-Meier and ROC curve analyses</text>
<circle cx="79" cy="3125" r="12"/>
<text class="bt" x="137" y="3145" textLength="1532" lengthAdjust="spacingAndGlyphs">Univariate and multivariate Cox regression analyses</text>
<circle cx="79" cy="3296" r="12"/>
<text class="bt" x="137" y="3317" textLength="1325" lengthAdjust="spacingAndGlyphs">The survival analyses stratified by subgroups</text>
</g>

<!-- ============ PANEL 5 ============ -->
<g id="panel-nomogram">
<rect class="panel" x="1996" y="1736" width="2052" height="1650"/>
<text class="title c5" x="2056" y="1832" textLength="487" lengthAdjust="spacingAndGlyphs">Nomogram</text>
<g id="nomogram-chart">
<g class="t20">
<text x="2425" y="1905">Points</text><text x="2425" y="1964">Gender</text><text x="2425" y="2052">Stage</text><text x="2425" y="2140">Age</text><text x="2425" y="2227">risk***</text><text x="2425" y="2305">Total points</text>
</g>
<g class="t18">
<text x="2425" y="2455">Pr( futime &gt; 5 )</text><text x="2425" y="2526">Pr( futime &gt; 3 )</text><text x="2425" y="2596">Pr( futime &gt; 1 )</text>
</g>
<path class="ax" d="M2568 1907H3116M2975 2160H3127M2586 2380H3187M2572 2450H3120M2574 2520H3114M2644 2590H3135"/>
<g class="t20 mid">
<text x="2571" y="1929">0</text><text x="2680" y="1929">20</text><text x="2789" y="1929">40</text><text x="2897" y="1929">60</text><text x="3006" y="1929">80</text><text x="3116" y="1929">100</text>
<text x="2976" y="2180">30</text><text x="3025" y="2180">50</text><text x="3076" y="2180">70</text><text x="3124" y="2180">90</text>
<text x="2590" y="2403">260</text><text x="2689" y="2403">280</text><text x="2789" y="2403">300</text><text x="2889" y="2403">320</text><text x="2989" y="2403">340</text><text x="3088" y="2403">360</text><text x="3186" y="2403">380</text>
<text x="2570" y="2472">0.5</text><text x="2669" y="2472">0.4</text><text x="2766" y="2472">0.3</text><text x="2871" y="2472">0.2</text><text x="2998" y="2472">0.1</text><text x="3069" y="2472">0.06</text><text x="3116" y="2472">0.04</text>
<text x="2576" y="2542">0.7</text><text x="2703" y="2542">0.6</text><text x="2812" y="2542">0.5</text><text x="2912" y="2542">0.4</text><text x="3009" y="2542">0.3</text><text x="3113" y="2542">0.2</text>
<text x="2646" y="2612">0.92</text><text x="2797" y="2612">0.88</text><text x="2907" y="2612">0.84</text><text x="2996" y="2612">0.8</text><text x="3069" y="2612">0.76</text><text x="3133" y="2612">0.72</text>
</g>
<path fill="#ececec" stroke="#0000ff" stroke-width="5" d="M2976 2158L2990 2146 2995 2156 3009 2156 3020 2123 3025 2118 3031 2139 3036 2130 3044 2141 3053 2115 3058 2127 3066 2106 3072 2134 3080 2111 3088 2132 3097 2132 3102 2148 3113 2153 3124 2158"/>
<path fill="#ececec" stroke="#0000ff" stroke-width="5" d="M2554 2380L2576 2370 2589 2356 2603 2330 2614 2340 2625 2330 2636 2328 2644 2327 2652 2340 2663 2356 2677 2370 2691 2375 2707 2379"/>
<path fill="#ececec" stroke="#0000ff" stroke-width="5" d="M3003 2380L3031 2373 3042 2359 3055 2363 3066 2351 3080 2363 3091 2354 3105 2361 3113 2370 3127 2379"/>
<path d="M2599 2249H3039" stroke="#bdbdbd" stroke-width="6"/>
<rect class="box" x="3042" y="1957" width="44" height="57"/>
<rect class="box" x="3023" y="1962" width="43" height="49"/>
<rect class="box" x="3030" y="2046" width="56" height="55"/>
<rect class="box" x="3054" y="2055" width="36" height="36"/>
<rect class="box" x="2544" y="2222" width="55" height="54"/>
<rect class="box" x="3039" y="2229" width="38" height="38"/>
<g class="t18 mid">
<text x="3046" y="1962">Male</text><text x="3058" y="2026">Female</text><text x="3058" y="2045">IIIA</text><text x="3070" y="2104">IIIB</text><text x="2571" y="2217">low</text><text x="3057" y="2284">high</text>
</g>
<circle cx="3046" cy="1985" r="3.5"/><circle cx="3072" cy="2073" r="3.5"/><circle cx="3057" cy="2248" r="3.5"/>
<path fill="none" stroke="#ff0000" stroke-width="6" stroke-linecap="round" stroke-dasharray="0 25" d="M2571 1907V2222M3057 1907V2073M3097 1907V2160"/>
<g class="rt"><circle cx="2571" cy="1907" r="6"/><circle cx="3055" cy="1907" r="6"/><circle cx="3095" cy="1907" r="6"/><circle cx="3055" cy="1985" r="6"/><circle cx="3055" cy="2073" r="6"/><circle cx="2570" cy="2248" r="6"/><circle cx="3097" cy="2160" r="6"/></g>
<path d="M2665 2380V2585" stroke="#ff0000" stroke-width="6"/>
<path class="rt" d="M2665 2369L2676 2380 2665 2391 2654 2380ZM2653 2434H2677L2665 2452ZM2653 2503H2677L2665 2521ZM2653 2576H2677L2665 2594Z"/>
<g class="t20 rt">
<text class="mid" x="2667" y="2372">276</text>
<text class="end" x="2652" y="2438">0.407</text><text class="end" x="2652" y="2508">0.633</text><text class="end" x="2652" y="2578">0.916</text>
</g>
</g>
<g id="roc-chart">
<path d="M3393 2219L3748 1907" stroke="#000" stroke-width="5" stroke-dasharray="18 12"/>
<g fill="none" stroke-width="12" stroke-linejoin="round">
<path stroke="#ff0000" d="M3389 2224L3403 2207 3409 2132 3423 2099 3443 2072 3449 2046 3469 2029 3502 2008 3529 1989 3562 1989 3582 1979 3602 1959 3641 1954 3688 1932 3748 1907"/>
<path stroke="#00ee00" d="M3389 2224L3409 2191 3436 2153 3449 2105 3469 2072 3489 2051 3509 2029 3535 2024 3562 2008 3582 1992 3622 1983 3661 1965 3701 1938 3748 1911"/>
<path stroke="#0000ff" d="M3389 2218L3396 2089 3409 2067 3436 2056 3449 2040 3489 2024 3529 2002 3562 1997 3595 1979 3635 1965 3674 1943 3714 1927 3748 1908"/>
</g>
<rect x="3484" y="2166" width="278" height="65" fill="#fff" stroke="#000" stroke-width="4"/>
<rect x="3488" y="2175" width="41" height="14" rx="7" fill="#ff0000"/><rect x="3488" y="2191" width="41" height="14" rx="7" fill="#0000ff"/><rect x="3488" y="2207" width="41" height="14" rx="7" fill="#00ee00"/>
<g class="t14"><text x="3532" y="2187" textLength="216" lengthAdjust="spacingAndGlyphs">AUC of 1 year survival:  0.719</text><text x="3532" y="2203" textLength="216" lengthAdjust="spacingAndGlyphs">AUC of 3 year survival:  0.629</text><text x="3532" y="2219" textLength="216" lengthAdjust="spacingAndGlyphs">AUC of 5 year survival:  0.737</text></g>
<rect class="fr" x="3378" y="1898" width="384" height="333"/>
<path d="M3393 2231v10M3464 2231v10M3535 2231v10M3606 2231v10M3677 2231v10M3748 2231v10M3378 1907h-10M3378 1970h-10M3378 2033h-10M3378 2095h-10M3378 2157h-10M3378 2219h-10" stroke="#000" stroke-width="3"/>
<g class="t16 mid">
<text x="3393" y="2260">0.0</text><text x="3464" y="2260">0.2</text><text x="3535" y="2260">0.4</text><text x="3606" y="2260">0.6</text><text x="3677" y="2260">0.8</text><text x="3748" y="2260">1.0</text>
<text transform="translate(3362 1907) rotate(-90)">1.0</text><text transform="translate(3362 1970) rotate(-90)">0.8</text><text transform="translate(3362 2033) rotate(-90)">0.6</text><text transform="translate(3362 2095) rotate(-90)">0.4</text><text transform="translate(3362 2157) rotate(-90)">0.2</text><text transform="translate(3362 2219) rotate(-90)">0.0</text>
</g>
<text class="t20 mid" transform="translate(3332 2089) rotate(-90)">Sensitivity</text>
<text class="t20 mid" x="3589" y="2284">1−Specificity</text>
</g>
<g id="cindex-chart">
<path class="fr" d="M3397 2309V2566M3410 2577H3758"/>
<path d="M3410 2577v10M3479 2577v10M3549 2577v10M3618 2577v10M3686 2577v10M3756 2577v10M3397 2309h-10M3397 2373h-10M3397 2437h-10M3397 2502h-10M3397 2566h-10" stroke="#000" stroke-width="4"/>
<g class="t16 mid">
<text x="3410" y="2609">0</text><text x="3479" y="2609">2</text><text x="3549" y="2609">4</text><text x="3618" y="2609">6</text><text x="3686" y="2609">8</text><text x="3756" y="2609">10</text>
<text transform="translate(3376 2309) rotate(-90)">0.8</text><text transform="translate(3376 2373) rotate(-90)">0.7</text><text transform="translate(3376 2437) rotate(-90)">0.6</text><text transform="translate(3376 2502) rotate(-90)">0.5</text><text transform="translate(3376 2566) rotate(-90)">0.4</text>
</g>
<text class="t18 mid" transform="translate(3340 2418) rotate(-90)">Concordance index</text>
<text class="t20 mid" x="3593" y="2628">Time (year)</text>
<g fill="none" stroke-width="12" stroke-linejoin="round" stroke-linecap="round">
<path stroke="#e8e020" d="M3446 2467L3475 2477 3502 2494 3548 2494 3622 2488 3691 2488 3721 2531 3757 2607"/>
<path stroke="#22cc22" d="M3446 2510L3475 2504 3548 2501 3622 2504 3691 2501 3721 2542 3757 2616"/>
<path stroke="#22dddd" d="M3446 2494L3475 2504 3548 2497 3622 2497 3691 2496 3721 2537 3757 2612"/>
<path stroke="#ff2020" d="M3446 2367L3475 2386 3516 2413 3556 2415 3595 2407 3648 2407 3688 2407 3721 2461 3757 2553"/>
<path stroke="#2030ff" d="M3446 2380L3475 2396 3516 2415 3556 2418 3595 2413 3648 2415 3688 2413 3721 2467 3757 2558"/>
</g>
<g fill="#bbbbbb"><ellipse cx="3397" cy="2502" rx="10" ry="8"/><ellipse cx="3471" cy="2502" rx="10" ry="8"/><ellipse cx="3546" cy="2502" rx="10" ry="8"/><ellipse cx="3620" cy="2502" rx="10" ry="8"/><ellipse cx="3695" cy="2502" rx="10" ry="8"/></g>
<rect x="3625" y="2309" width="38" height="11" rx="5" fill="#ff2020"/><rect x="3625" y="2327" width="38" height="11" rx="5" fill="#e8e020"/><rect x="3625" y="2344" width="38" height="11" rx="5" fill="#22cc22"/><rect x="3625" y="2361" width="38" height="11" rx="5" fill="#22dddd"/><rect x="3625" y="2378" width="38" height="11" rx="5" fill="#2030ff"/>
<g class="t14"><text x="3671" y="2319">nomogram</text><text x="3671" y="2337">Age</text><text x="3671" y="2354">Gender</text><text x="3671" y="2371">Stage</text><text x="3671" y="2388">risk score</text></g>
</g>
<g id="calibration-training">
<text class="t22 mid" x="2575" y="2690">The training set</text>
<path d="M2429 2722V2703H2728V2722" fill="none" stroke="#000" stroke-width="5"/><rect x="2429" y="2699" width="299" height="8"/>
<path d="M2446 2964L2726 2730" stroke="#dcdcdc" stroke-width="8"/>
<path class="cal" d="M2471 2957V2913M2519 2917V2853M2566 2891V2813M2571 2891V2813M2629 2851V2774M2656 2820V2758M2698 2774V2736"/>
<path d="M2471 2947L2571 2866" stroke="#ff0000" stroke-width="5"/><path d="M2519 2893L2629 2815" stroke="#0000ff" stroke-width="5"/><path d="M2629 2815L2698 2750" stroke="#00ee00" stroke-width="4"/>
<g fill="#0000ff"><circle cx="2471" cy="2950" r="6"/><circle cx="2519" cy="2891" r="6"/><circle cx="2566" cy="2858" r="6"/><circle cx="2571" cy="2864" r="6"/><circle cx="2629" cy="2829" r="6"/><circle cx="2656" cy="2798" r="6"/><circle cx="2698" cy="2747" r="6"/></g>
<rect x="2628" y="2897" width="29" height="10" rx="5" fill="#00ee00"/><rect x="2628" y="2917" width="29" height="10" rx="5" fill="#0000ff"/><rect x="2628" y="2937" width="29" height="10" rx="5" fill="#ff0000"/>
<g class="t16"><text x="2662" y="2908">1−year</text><text x="2662" y="2928">3−year</text><text x="2662" y="2948">5−year</text></g>
<rect class="fr" x="2444" y="2728" width="284" height="238"/>
<g class="t16 mid">
<text x="2453" y="2990">0.0</text><text x="2506" y="2990">0.2</text><text x="2558" y="2990">0.4</text><text x="2611" y="2990">0.6</text><text x="2663" y="2990">0.8</text><text x="2716" y="2990">1.0</text>
<text transform="translate(2424 2957) rotate(-90)">0.0</text><text transform="translate(2424 2913) rotate(-90)">0.2</text><text transform="translate(2424 2869) rotate(-90)">0.4</text><text transform="translate(2424 2825) rotate(-90)">0.6</text><text transform="translate(2424 2780) rotate(-90)">0.8</text><text transform="translate(2424 2736) rotate(-90)">1.0</text>
<text transform="translate(2394 2847) rotate(-90)">Observed OS (%)</text>
<text x="2592" y="3020">Nomogram−predicted OS (%)</text>
</g>
</g>
<g id="calibration-internal">
<text class="t22 mid" x="2948" y="2690">The internal test set</text>
<path d="M2790 2722V2703H3089V2722" fill="none" stroke="#000" stroke-width="5"/><rect x="2790" y="2699" width="299" height="8"/>
<path d="M2805 2964L3085 2730" stroke="#dcdcdc" stroke-width="8"/>
<path class="cal" d="M2858 2939V2880M2879 2924V2862M2920 2906V2835M2941 2886V2802M2947 2884V2820M2965 2869V2787M2996 2835V2771M3035 2787V2743M3043 2798V2751"/>
<path d="M2858 2920L2941 2862" stroke="#ff0000" stroke-width="5"/><path d="M2879 2897L2996 2812" stroke="#0000ff" stroke-width="5"/><path d="M2996 2812L3035 2760" stroke="#00ee00" stroke-width="4"/>
<g fill="#0000ff"><circle cx="2858" cy="2918" r="6"/><circle cx="2879" cy="2895" r="6"/><circle cx="2920" cy="2878" r="6"/><circle cx="2941" cy="2860" r="6"/><circle cx="2947" cy="2858" r="6"/><circle cx="2965" cy="2840" r="6"/><circle cx="2996" cy="2810" r="6"/><circle cx="3035" cy="2760" r="6"/><circle cx="3043" cy="2775" r="6"/></g>
<rect x="2987" y="2900" width="29" height="10" rx="5" fill="#00ee00"/><rect x="2987" y="2920" width="29" height="10" rx="5" fill="#0000ff"/><rect x="2987" y="2940" width="29" height="10" rx="5" fill="#ff0000"/>
<g class="t16"><text x="3021" y="2911">1−year</text><text x="3021" y="2931">3−year</text><text x="3021" y="2951">5−year</text></g>
<rect class="fr" x="2803" y="2728" width="284" height="238"/>
<g class="t16 mid">
<text x="2816" y="2990">0.0</text><text x="2868" y="2990">0.2</text><text x="2920" y="2990">0.4</text><text x="2973" y="2990">0.6</text><text x="3025" y="2990">0.8</text><text x="3077" y="2990">1.0</text>
<text transform="translate(2787 2957) rotate(-90)">0.0</text><text transform="translate(2787 2913) rotate(-90)">0.2</text><text transform="translate(2787 2869) rotate(-90)">0.4</text><text transform="translate(2787 2825) rotate(-90)">0.6</text><text transform="translate(2787 2780) rotate(-90)">0.8</text><text transform="translate(2787 2736) rotate(-90)">1.0</text>
<text transform="translate(2758 2847) rotate(-90)">Observed OS (%)</text>
<text x="2952" y="3020">Nomogram−predicted OS (%)</text>
</g>
</g>
<g id="calibration-external">
<text class="t22 mid" x="3321" y="2687">The external test set</text>
<rect x="3176" y="2701" width="294" height="20" fill="none" stroke="#000" stroke-width="4"/><rect x="3176" y="2697" width="294" height="9"/>
<path d="M3180 2964L3466 2722" stroke="#dcdcdc" stroke-width="8"/>
<path class="cal" d="M3205 2957V2831M3299 2916V2797M3313 2881V2751M3331 2881V2778M3412 2808V2728M3417 2797V2733"/>
<path d="M3205 2932L3299 2875" stroke="#ff0000" stroke-width="6"/><path d="M3313 2850L3412 2775" stroke="#00ee00" stroke-width="5"/>
<g fill="#0000ff"><circle cx="3205" cy="2934" r="6"/><circle cx="3299" cy="2875" r="6"/><circle cx="3313" cy="2854" r="6"/><circle cx="3412" cy="2778" r="6"/></g>
<rect x="3369" y="2891" width="29" height="10" rx="5" fill="#00ee00"/><rect x="3369" y="2908" width="29" height="10" rx="5" fill="#ff0000"/>
<g class="t16"><text x="3404" y="2902">1−year</text><text x="3404" y="2919">3−year</text></g>
<rect class="fr" x="3178" y="2720" width="290" height="246"/>
<g class="t16 mid">
<text x="3192" y="2994">0.0</text><text x="3246" y="2994">0.2</text><text x="3299" y="2994">0.4</text><text x="3353" y="2994">0.6</text><text x="3406" y="2994">0.8</text><text x="3460" y="2994">1.0</text>
<text transform="translate(3160 2957) rotate(-90)">0.0</text><text transform="translate(3160 2911) rotate(-90)">0.2</text><text transform="translate(3160 2865) rotate(-90)">0.4</text><text transform="translate(3160 2820) rotate(-90)">0.6</text><text transform="translate(3160 2774) rotate(-90)">0.8</text><text transform="translate(3160 2728) rotate(-90)">1.0</text>
<text transform="translate(3128 2845) rotate(-90)">Observed OS (%)</text>
<text x="3335" y="3024">Nomogram−predicted OS (%)</text>
</g>
</g>
<g id="calibration-total">
<text class="t22 mid" x="3693" y="2690">The total test set</text>
<path d="M3532 2722V2703H3830V2722" fill="none" stroke="#000" stroke-width="5"/><rect x="3532" y="2699" width="298" height="8"/>
<path d="M3546 2964L3826 2730" stroke="#dcdcdc" stroke-width="8"/>
<path d="M3548 2728H3825V2738L3800 2736 3785 2745 3760 2737 3740 2742 3720 2738 3700 2740 3690 2752 3680 2745 3670 2750 3660 2740 3652 2752 3645 2748 3630 2737 3610 2742 3590 2736 3570 2740 3548 2738Z"/>
<path class="cal" d="M3582 2950V2917M3616 2917V2880M3651 2891V2847M3661 2884V2835M3698 2873V2824M3709 2858V2798M3740 2824V2785M3785 2780V2740"/>
<path d="M3582 2940L3616 2900" stroke="#ff0000" stroke-width="5"/><path d="M3616 2900L3709 2830" stroke="#0000ff" stroke-width="6"/><path d="M3709 2823L3785 2762" stroke="#00ee00" stroke-width="4"/>
<g fill="#0000ff"><circle cx="3582" cy="2937" r="6"/><circle cx="3616" cy="2904" r="6"/><circle cx="3651" cy="2869" r="6"/><circle cx="3661" cy="2866" r="6"/><circle cx="3698" cy="2853" r="6"/><circle cx="3709" cy="2823" r="6"/><circle cx="3740" cy="2807" r="6"/><circle cx="3785" cy="2762" r="6"/></g>
<rect x="3723" y="2900" width="32" height="10" rx="5" fill="#00ee00"/><rect x="3723" y="2919" width="32" height="10" rx="5" fill="#0000ff"/><rect x="3723" y="2938" width="32" height="10" rx="5" fill="#ff0000"/>
<g class="t16"><text x="3760" y="2911">1−year</text><text x="3760" y="2930">3−year</text><text x="3760" y="2949">5−year</text></g>
<rect class="fr" x="3544" y="2726" width="284" height="240"/>
<g class="t16 mid">
<text x="3556" y="2990">0.0</text><text x="3609" y="2990">0.2</text><text x="3661" y="2990">0.4</text><text x="3714" y="2990">0.6</text><text x="3766" y="2990">0.8</text><text x="3819" y="2990">1.0</text>
<text transform="translate(3525 2957) rotate(-90)">0.0</text><text transform="translate(3525 2913) rotate(-90)">0.2</text><text transform="translate(3525 2869) rotate(-90)">0.4</text><text transform="translate(3525 2825) rotate(-90)">0.6</text><text transform="translate(3525 2780) rotate(-90)">0.8</text><text transform="translate(3525 2736) rotate(-90)">1.0</text>
<text transform="translate(3497 2847) rotate(-90)">Observed OS (%)</text>
<text x="3722" y="3020">Nomogram−predicted OS (%)</text>
</g>
</g>
<circle cx="2104" cy="3104" r="12"/>
<text class="bt" x="2169" y="3131" textLength="447" lengthAdjust="spacingAndGlyphs">The nomogram</text>
<circle cx="2104" cy="3212" r="12"/>
<text class="bt" x="2169" y="3238" textLength="1130" lengthAdjust="spacingAndGlyphs">ROC curve analyses of the nomogram</text>
<circle cx="2104" cy="3330" r="12"/>
<text class="bt" x="2162" y="3341" textLength="1274" lengthAdjust="spacingAndGlyphs">The C-index and calibration curve analyses</text>
</g>

<!-- ============ PANEL 6 ============ -->
<g id="panel-time-treatment">
<rect class="panel" x="4094" y="1736" width="1923" height="1650"/>
<text class="title c6" x="4164" y="1832" textLength="1565" lengthAdjust="spacingAndGlyphs">The TIME and treatment respsones</text>
<g id="radar-chart">
<g transform="translate(4561 2100)">
<use xlink:href="#ring" transform="scale(1.78)" stroke-width="2.3"/>
<use xlink:href="#ring" transform="scale(1.41)" stroke-width="2.9"/>
<use xlink:href="#ring" transform="scale(1.06)" stroke-width="3.8"/>
<use xlink:href="#ring" transform="scale(0.70)" stroke-width="5.8"/>
<path fill="none" stroke="#c0c0c0" stroke-width="4" d="M0 -34L0 -178M9.6 -32.6L50.1 -170.8M18.4 -28.6L96.2 -149.8M25.7 -22.3L134.5 -116.6M30.9 -14.1L161.9 -73.9M33.7 -4.8L176.2 -25.3M33.7 4.8L176.2 25.3M30.9 14.1L161.9 73.9M25.7 22.3L134.5 116.6M18.4 28.6L96.2 149.8M9.6 32.6L50.1 170.8M0 34L0 178M-9.6 32.6L-50.1 170.8M-18.4 28.6L-96.2 149.8M-25.7 22.3L-134.5 116.6M-30.9 14.1L-161.9 73.9M-33.7 4.8L-176.2 25.3M-33.7 -4.8L-176.2 -25.3M-30.9 -14.1L-161.9 -73.9M-25.7 -22.3L-134.5 -116.6M-18.4 -28.6L-96.2 -149.8M-9.6 -32.6L-50.1 -170.8"/>
<circle r="34" fill="#fff"/>
<polygon fill="none" stroke="#ff0000" stroke-width="9" stroke-linejoin="round" points="-80.6,-69.9 -49,-76 -22.3,-82 12,-35 104,-94 110,-55 110,-40 65,-8 58,8 68,20 116,100 23,28 27.6,76.6 -0.7,131.5 -50.6,173.2 -24,30 -148.9,68.3 -72.3,-13.3 -30.6,-15 -60.6,-61.6"/>
<polygon fill="none" stroke="#0000ff" stroke-width="9" stroke-linejoin="round" points="-80.6,-69.9 -49,-73.9 -22.3,-79.9 14.3,-40 100.9,-91.6 129.2,-56.6 62.6,-10 55.9,6.7 65.9,20 112.6,96.6 21,26.6 16,69.9 -0.7,131.5 -50.6,173.2 -22.3,30 -148.9,68.3 -72.3,-13.3 -30.6,-15 -60.6,-61.6"/>
</g>
<g class="mid">
<text class="rad" x="4559" y="1889">B cells memory</text>
<text class="rad" x="4499" y="1898">B cells naive</text>
<text class="radr" x="4626" y="1908">T cells regulatory (Tregs)*</text>
<text class="rad" x="4443" y="1924">Dendritic cells activated</text>
<text class="rad" x="4676" y="1923">T cells gamma delta</text>
<text class="radr" x="4393" y="1965">Dendritic cells resting*</text>
<text class="rad" x="4723" y="1963">T cells follicular helper</text>
<text class="radr" x="4368" y="2019">Eosinophils**</text>
<text class="radr" x="4759" y="2017">T cells CD8*</text>
<text class="rad" x="4773" y="2136">Neutrophils</text>
<text class="rad" x="4363" y="2195">Macrophages M2</text>
<text class="rad" x="4756" y="2195">Monocytes</text>
<text class="rad" x="4396" y="2248">Mast cells activated</text>
<text class="rad" x="4723" y="2247">T cells CD4 memory resting</text>
<text class="rad" x="4443" y="2287">NK cells resting</text>
<text class="rad" x="4676" y="2288">T cells CD4 naive</text>
<text class="rad" x="4499" y="2313">Plasma cells</text>
<text class="radr" x="4626" y="2305">T cells CD4 memory activated*</text>
<text class="rad" x="4559" y="2321">Mast cells resting</text>
</g>
<text class="rad end" x="4382" y="2074">Macrophages M0</text>
<text class="rad end" x="4382" y="2136">Macrophages M1</text>
<text class="rad" x="4736" y="2075">NK cells activated</text>
<circle cx="4769" cy="1893" r="4" fill="#ff0000"/><circle cx="4769" cy="1904" r="4" fill="#0000ff"/>
<text class="rad" x="4780" y="1897">high</text><text class="rad" x="4780" y="1908">low</text>
</g>
<g id="submap-heatmap">
<rect x="4988" y="1918" width="27" height="137" rx="4" fill="#9a9a9a"/><rect x="5017" y="1918" width="260" height="137" rx="4" fill="#9a9a9a"/>
<rect x="4988" y="2058" width="27" height="137" rx="4" fill="#9a9a9a"/><rect x="5017" y="2058" width="260" height="137" rx="4" fill="#9a9a9a"/>
<rect x="4995" y="1925" width="15" height="59" fill="#dcdcdc"/><rect x="5023" y="1925" width="56" height="59" fill="#fde725"/><rect x="5086" y="1925" width="57" height="59" fill="#355f8d"/><rect x="5149" y="1925" width="57" height="59" fill="#440154"/><rect x="5213" y="1925" width="57" height="59" fill="#440154"/>
<rect x="4995" y="1990" width="15" height="59" fill="#dcdcdc"/><rect x="5023" y="1990" width="56" height="59" fill="#440154"/><rect x="5086" y="1990" width="57" height="59" fill="#fde725"/><rect x="5149" y="1990" width="57" height="59" fill="#355f8d"/><rect x="5213" y="1990" width="57" height="59" fill="#fde725"/>
<rect x="4995" y="2065" width="15" height="58" fill="#6a0050"/><rect x="5023" y="2065" width="56" height="58" fill="#7ad151"/><rect x="5086" y="2065" width="57" height="58" fill="#7ad151"/><rect x="5149" y="2065" width="57" height="58" fill="#440154"/><rect x="5213" y="2065" width="57" height="58" fill="#22908c"/>
<rect x="4995" y="2130" width="15" height="59" fill="#6a0050"/><rect x="5023" y="2130" width="56" height="59" fill="#355f8d"/><rect x="5086" y="2130" width="57" height="59" fill="#fde725"/><rect x="5149" y="2130" width="57" height="59" fill="#440154"/><rect x="5213" y="2130" width="57" height="59" fill="#fde725"/>
<g class="t20">
<text x="5280" y="1962" textLength="107" lengthAdjust="spacingAndGlyphs">Low_risk_p</text><text x="5280" y="2028" textLength="112" lengthAdjust="spacingAndGlyphs">High−risk_p</text><text x="5280" y="2102" textLength="107" lengthAdjust="spacingAndGlyphs">Low_risk_b</text><text x="5280" y="2167" textLength="112" lengthAdjust="spacingAndGlyphs">High−risk_b</text>
<text transform="translate(4994 2200) rotate(90)">pvalue</text>
<text transform="translate(5043 2200) rotate(90)">CTAL4−noR</text>
<text transform="translate(5107 2200) rotate(90)">CTLA4−R</text>
<text transform="translate(5170 2200) rotate(90)">PD1−noR</text>
<text transform="translate(5233 2200) rotate(90)">PD1−R</text>
</g>
<g class="t17 mid">
<text transform="translate(4982 1978) rotate(-90)">Nominal p value</text>
<text transform="translate(4982 2140) rotate(-90)">Bonferroni corrected</text>
</g>
<rect x="5407" y="1922" width="21" height="65" fill="#440154"/><rect x="5407" y="1987" width="21" height="66" fill="#355f8d"/><rect x="5407" y="2053" width="21" height="66" fill="#22908c"/><rect x="5407" y="2119" width="21" height="65" fill="#7ad151"/><rect x="5407" y="2184" width="21" height="66" fill="#fde725"/>
<g class="t20"><text x="5435" y="1967">0.8</text><text x="5435" y="2042">0.6</text><text x="5435" y="2117">0.4</text><text x="5435" y="2192">0.2</text></g>
</g>
<g id="boxplot-cisplatin">
<g class="t14">
<text class="mid" x="4527" y="2383">Risk</text><rect x="4552" y="2366" width="18" height="24" rx="7"/><text class="mid" x="4593" y="2383">low</text><rect x="4610" y="2366" width="18" height="24" rx="7"/><text class="mid" x="4652" y="2383">high</text>
</g>
<path d="M4496 2436V2426H4677V2436" fill="none" stroke="#000" stroke-width="3"/>
<text class="t14 mid" x="4586" y="2420">0.005</text>
<path d="M4496 2441V2598M4677 2462V2634" stroke="#000" stroke-width="6"/>
<rect x="4433" y="2494" width="130" height="50" fill="#00ff00" stroke="#000" stroke-width="7"/>
<path d="M4433 2517H4563" stroke="#000" stroke-width="8"/>
<rect x="4613" y="2510" width="130" height="58" fill="#ff0000" stroke="#000" stroke-width="7"/>
<path d="M4613 2539H4743" stroke="#000" stroke-width="8"/>
<circle cx="4496" cy="2631" r="6"/><circle cx="4677" cy="2704" r="6"/>
<path class="ax" d="M4388 2413V2717H4784"/>
<g class="t14">
<text class="end" x="4378" y="2452">4.0</text><text class="end" x="4378" y="2519">3.5</text><text class="end" x="4378" y="2586">3.0</text><text class="end" x="4378" y="2653">2.5</text><text class="end" x="4378" y="2720">2.0</text>
<text class="mid" x="4496" y="2737">low</text><text class="mid" x="4677" y="2737">high</text><text class="mid" x="4586" y="2755">Risk</text>
<text class="mid" transform="translate(4355 2564) rotate(-90)">Cisplatin sensitivity (IC50)</text>
</g>
</g>
<g id="boxplot-docetaxel">
<g class="t14">
<text class="mid" x="5140" y="2376">Risk</text><rect x="5164" y="2359" width="18" height="24" rx="7"/><text class="mid" x="5203" y="2376">low</text><rect x="5221" y="2359" width="18" height="24" rx="7"/><text class="mid" x="5262" y="2376">high</text>
</g>
<path d="M5108 2428V2418H5289V2428" fill="none" stroke="#000" stroke-width="3"/>
<text class="t14 mid" x="5198" y="2412">0.12</text>
<path d="M5108 2477V2650M5289 2475V2652" stroke="#000" stroke-width="6"/>
<rect x="5041" y="2521" width="132" height="51" fill="#00ff00" stroke="#000" stroke-width="7"/>
<path d="M5041 2546H5173" stroke="#000" stroke-width="8"/>
<rect x="5223" y="2529" width="132" height="62" fill="#ff0000" stroke="#000" stroke-width="7"/>
<path d="M5223 2552H5355" stroke="#000" stroke-width="8"/>
<circle cx="5108" cy="2432" r="6"/><circle cx="5108" cy="2650" r="6"/><circle cx="5289" cy="2441" r="6"/><circle cx="5289" cy="2674" r="6"/><circle cx="5289" cy="2696" r="6"/>
<path class="ax" d="M4997 2407V2710H5398"/>
<g class="t14">
<text class="end" x="4988" y="2425">−4</text><text class="end" x="4988" y="2523">−5</text><text class="end" x="4988" y="2622">−6</text>
<text class="mid" x="5108" y="2727">low</text><text class="mid" x="5289" y="2727">high</text><text class="mid" x="5198" y="2746">Risk</text>
<text class="mid" transform="translate(4966 2558) rotate(-90)">Docetaxel sensitivity (IC50)</text>
</g>
</g>
<circle cx="4131" cy="2893" r="12"/>
<text class="bt" x="4164" y="2911" textLength="1600" lengthAdjust="spacingAndGlyphs">The radar chart showed the difference of immune cells</text>
<text class="bt" x="4182" y="3026" textLength="511" lengthAdjust="spacingAndGlyphs">between risk sets</text>
<circle cx="4141" cy="3125" r="12"/>
<text class="bt" x="4179" y="3145" textLength="1567" lengthAdjust="spacingAndGlyphs">The TIDE and subMap analyses were used to predict</text>
<text class="bt" x="4189" y="3231" textLength="701" lengthAdjust="spacingAndGlyphs">immunotherapy efficacy</text>
<circle cx="4141" cy="3320" r="12"/>
<text class="bt" x="4179" y="3341" textLength="1629" lengthAdjust="spacingAndGlyphs" xml:space="preserve">The  IC50 values were applied to predict chemotherapy</text>
</g>
</svg>
